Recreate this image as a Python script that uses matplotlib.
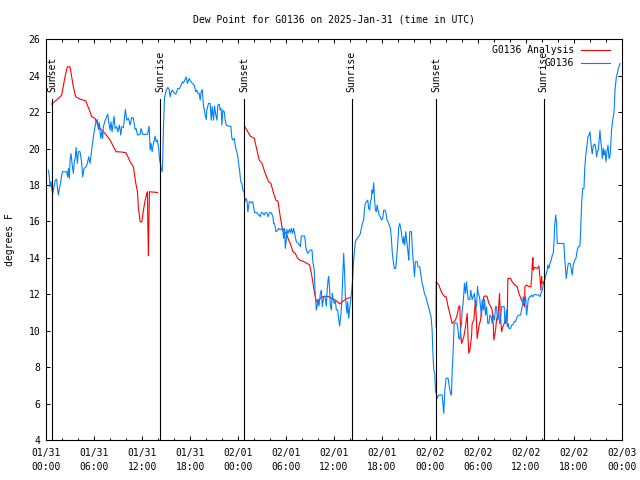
#!/usr/bin/env python3
"""Dew point chart for G0136, 2025-01-31 (gnuplot look-alike)."""

import matplotlib
matplotlib.use("Agg")
import matplotlib.pyplot as plt
from matplotlib.ticker import MultipleLocator

plt.rcParams["font.family"] = ["DejaVu Sans Mono"]
plt.rcParams["font.size"] = 7

TITLE = "Dew Point for G0136 on 2025-Jan-31 (time in UTC)"
YLABEL = "degrees F"
SERIES_NAMES = ["G0136 Analysis", "G0136"]
COLORS = ["#ff0000", "#0080ff"]

# x axis: hours since 2025-01-31 00:00 UTC
tick_hours = [0, 6, 12, 18, 24, 30, 36, 42, 48, 54, 60, 66, 72]
tick_labels = ["01/31\n00:00", "01/31\n06:00", "01/31\n12:00", "01/31\n18:00",
               "02/01\n00:00", "02/01\n06:00", "02/01\n12:00", "02/01\n18:00",
               "02/02\n00:00", "02/02\n06:00", "02/02\n12:00", "02/02\n18:00",
               "02/03\n00:00"]
y_ticks = [4, 6, 8, 10, 12, 14, 16, 18, 20, 22, 24, 26]

event_hours = [0.74, 14.28, 24.78, 38.22, 48.80, 62.25]
event_names = ["Sunset", "Sunrise", "Sunset", "Sunrise", "Sunset", "Sunrise"]

# analysis (red), three separate pieces
ana_seg1 = [
    (0.66, 22.44), (1.70, 22.84), (1.91, 22.94), (2.33, 23.94), (2.62, 24.49),
    (2.96, 24.49), (3.37, 23.39), (3.67, 22.84), (4.21, 22.72), (4.92, 22.62),
    (5.46, 22.02), (5.67, 21.75), (6.09, 21.66), (6.51, 21.20), (7.34, 20.83),
    (7.97, 20.47), (8.72, 19.83), (9.43, 19.81), (9.97, 19.77), (10.48, 19.28),
    (10.89, 19.00), (11.19, 18.09), (11.40, 17.63), (11.52, 16.72), (11.73, 15.98),
    (11.94, 15.98), (12.15, 16.62), (12.36, 17.17), (12.57, 17.54), (12.65, 17.63),
    (12.69, 15.89), (12.77, 14.12), (12.82, 15.89), (12.90, 17.63), (13.90, 17.59),
]
ana_seg2 = [
    (24.80, 21.23), (25.10, 21.01), (25.51, 20.69), (26.02, 20.56), (26.35, 19.92),
    (26.64, 19.37), (26.98, 19.19), (27.39, 18.64), (27.81, 18.18), (28.10, 18.09),
    (28.44, 17.54), (28.73, 17.17), (28.98, 17.12), (29.27, 16.26), (29.48, 15.71),
    (29.69, 15.53), (30.11, 15.25), (30.32, 14.98), (30.53, 14.79), (30.86, 14.34),
    (31.15, 14.25), (31.45, 13.97), (31.70, 13.88), (31.99, 13.84), (32.62, 13.70),
    (32.95, 13.61), (33.24, 12.97), (33.53, 12.14), (33.79, 11.59), (34.08, 11.69),
    (34.50, 11.87), (34.91, 11.90), (35.33, 11.87), (35.75, 11.76), (36.17, 11.69),
    (36.71, 11.47), (37.21, 11.65), (37.63, 11.78), (38.05, 11.81),
]
ana_seg3 = [
    (48.78, 10.22), (48.79, 12.69), (49.11, 12.51), (49.53, 12.05), (49.87, 11.87),
    (50.03, 11.87), (50.28, 11.32), (50.49, 10.95), (50.79, 10.40), (51.20, 10.59),
    (51.41, 10.86), (51.62, 11.32), (51.75, 11.36), (51.83, 10.04), (51.96, 9.30),
    (52.25, 9.67), (52.46, 10.22), (52.67, 10.95), (52.79, 9.49), (52.87, 8.76),
    (53.00, 8.94), (53.21, 9.67), (53.29, 10.40), (53.50, 10.59), (53.71, 11.69),
    (53.84, 10.40), (53.92, 9.58), (54.13, 10.22), (54.34, 10.59), (54.54, 11.32),
    (54.75, 11.87), (54.96, 11.92), (55.17, 11.87), (55.38, 11.50), (55.59, 11.36),
    (55.80, 11.14), (55.92, 10.40), (56.01, 9.49), (56.22, 10.04), (56.34, 10.59),
    (56.55, 10.95), (56.72, 12.05), (56.80, 10.95), (56.97, 9.95), (57.14, 10.22),
    (57.30, 10.40), (57.47, 10.40), (57.68, 10.59), (57.76, 12.87), (58.10, 12.87),
    (58.30, 12.69), (58.64, 12.51), (58.93, 12.42), (59.14, 12.05), (59.47, 11.69),
    (59.68, 11.50), (59.85, 11.32), (59.89, 12.42), (60.10, 12.51), (60.39, 12.42),
    (60.64, 12.42), (60.73, 12.87), (60.81, 13.61), (60.89, 14.01), (60.94, 13.33),
    (61.10, 13.48), (61.44, 13.42), (61.65, 13.55), (61.77, 12.97), (61.90, 12.23),
    (61.98, 12.97), (62.06, 12.60), (62.27, 12.69),
]

# station observations (blue)
obs_pts = [
    (0.24, 18.82), (0.37, 18.45), (0.45, 17.90), (0.58, 18.18), (0.70, 17.72),
    (0.79, 17.54), (0.95, 17.90), (1.12, 18.27), (1.29, 18.31), (1.41, 17.72),
    (1.50, 17.45), (1.62, 17.81), (1.79, 18.12), (1.91, 18.55), (2.04, 18.73),
    (2.33, 18.73), (2.54, 18.73), (2.67, 18.45), (2.75, 18.91), (2.87, 18.36),
    (2.96, 19.37), (3.08, 19.73), (3.21, 19.19), (3.37, 18.64), (3.50, 19.28),
    (3.63, 19.55), (3.71, 20.06), (3.88, 19.19), (4.00, 19.83), (4.21, 19.83),
    (4.34, 19.46), (4.42, 19.19), (4.54, 18.45), (4.71, 18.91), (4.96, 19.00),
    (5.13, 19.19), (5.30, 19.55), (5.46, 19.19), (5.59, 19.64), (5.76, 20.19),
    (5.88, 20.65), (6.01, 21.01), (6.22, 21.53), (6.38, 21.60), (6.51, 21.05),
    (6.63, 21.42), (6.80, 20.56), (6.93, 20.92), (7.05, 20.56), (7.13, 21.20),
    (7.34, 21.53), (7.55, 21.75), (7.68, 21.89), (7.80, 21.47), (7.97, 21.01),
    (8.09, 21.47), (8.22, 20.92), (8.47, 21.78), (8.60, 21.10), (8.81, 21.20),
    (8.93, 20.92), (9.14, 21.29), (9.31, 20.74), (9.43, 21.20), (9.64, 21.16),
    (9.89, 22.15), (10.06, 21.56), (10.27, 21.66), (10.48, 21.29), (10.68, 21.71),
    (10.89, 21.66), (11.10, 21.05), (11.23, 21.10), (11.40, 20.74), (11.73, 20.78),
    (11.85, 21.10), (12.06, 20.78), (12.36, 20.78), (12.65, 20.78), (12.86, 21.23),
    (12.98, 19.92), (13.11, 20.28), (13.23, 19.83), (13.40, 20.28), (13.61, 20.69),
    (13.73, 20.38), (13.90, 20.47), (14.07, 19.92), (14.15, 19.46), (14.32, 19.00),
    (14.49, 18.73), (14.57, 19.55), (14.65, 21.10), (14.78, 22.75), (14.99, 23.21),
    (15.20, 23.36), (15.36, 23.25), (15.49, 22.84), (15.61, 23.12), (15.78, 23.21),
    (15.99, 23.06), (16.20, 22.99), (16.45, 23.30), (16.66, 23.30), (16.87, 23.48),
    (17.03, 23.67), (17.16, 23.61), (17.37, 23.80), (17.49, 23.94), (17.66, 23.58),
    (17.87, 23.85), (18.08, 23.67), (18.29, 23.58), (18.50, 23.48), (18.70, 23.12),
    (18.83, 23.21), (18.96, 23.03), (19.12, 23.03), (19.25, 22.66), (19.37, 23.12),
    (19.50, 23.25), (19.67, 22.30), (19.79, 22.11), (19.87, 21.84), (20.00, 21.60),
    (20.08, 22.11), (20.29, 22.48), (20.50, 22.48), (20.63, 21.56), (20.75, 22.30),
    (20.92, 21.56), (21.04, 22.33), (21.21, 21.84), (21.34, 21.56), (21.46, 22.39),
    (21.63, 22.44), (21.75, 22.11), (21.88, 22.20), (21.96, 21.29), (22.09, 22.11),
    (22.26, 22.02), (22.38, 21.56), (22.51, 21.29), (22.80, 21.23), (23.09, 21.23),
    (23.22, 20.56), (23.34, 20.47), (23.51, 20.56), (23.63, 20.19), (23.76, 19.92),
    (23.93, 19.64), (24.05, 19.19), (24.18, 18.82), (24.26, 18.45), (24.34, 18.18),
    (24.47, 18.09), (24.59, 17.72), (24.76, 17.63), (24.85, 17.08), (24.97, 17.26),
    (25.10, 17.17), (25.22, 16.53), (25.39, 17.08), (25.51, 17.08), (25.64, 17.03),
    (25.81, 17.08), (25.93, 16.81), (26.06, 16.48), (26.35, 16.48), (26.56, 16.35),
    (26.68, 16.35), (26.77, 16.26), (26.89, 16.48), (27.06, 16.48), (27.27, 16.35),
    (27.39, 16.48), (27.60, 16.48), (27.73, 16.26), (27.94, 16.48), (28.15, 16.48),
    (28.35, 16.26), (28.44, 15.89), (28.56, 15.89), (28.73, 15.44), (28.86, 15.47),
    (29.06, 15.62), (29.19, 15.56), (29.36, 15.56), (29.48, 15.62), (29.61, 15.44),
    (29.69, 15.07), (29.82, 15.62), (29.90, 14.52), (30.03, 14.98), (30.11, 15.56),
    (30.23, 15.34), (30.40, 15.56), (30.53, 15.38), (30.65, 15.62), (30.82, 15.34),
    (30.94, 15.62), (31.07, 15.38), (31.15, 15.16), (31.28, 14.89), (31.57, 14.79),
    (31.78, 14.61), (31.91, 15.20), (32.11, 15.20), (32.32, 15.20), (32.41, 14.89),
    (32.49, 14.52), (32.62, 14.34), (32.74, 14.25), (32.87, 14.34), (33.03, 14.43),
    (33.24, 14.43), (33.37, 13.70), (33.53, 13.33), (33.62, 12.23), (33.79, 11.14),
    (33.87, 11.32), (33.99, 11.72), (34.12, 11.36), (34.29, 12.05), (34.41, 12.23),
    (34.54, 11.32), (34.70, 11.87), (34.87, 11.87), (35.04, 11.36), (35.12, 12.05),
    (35.25, 12.78), (35.33, 12.97), (35.46, 12.23), (35.54, 11.36), (35.66, 11.14),
    (35.79, 12.05), (35.87, 11.76), (36.04, 11.50), (36.17, 11.65), (36.29, 11.14),
    (36.46, 11.14), (36.58, 10.62), (36.71, 10.26), (36.79, 10.62), (36.88, 10.95),
    (37.00, 11.87), (37.09, 12.97), (37.21, 14.25), (37.34, 12.97), (37.42, 11.87),
    (37.54, 11.32), (37.63, 10.95), (37.71, 11.59), (37.84, 10.68), (37.96, 11.23),
    (38.05, 11.50), (38.17, 12.05), (38.30, 12.60), (38.46, 13.88), (38.67, 14.89),
    (38.88, 15.07), (39.09, 15.16), (39.30, 15.34), (39.42, 15.62), (39.55, 15.89),
    (39.72, 16.08), (39.80, 16.62), (39.92, 16.99), (40.05, 17.08), (40.22, 17.17),
    (40.34, 16.72), (40.47, 16.62), (40.55, 17.08), (40.68, 17.26), (40.76, 17.72),
    (40.84, 17.54), (40.97, 18.12), (41.05, 17.36), (41.18, 16.62), (41.30, 16.53),
    (41.39, 16.90), (41.51, 16.62), (41.64, 16.35), (41.80, 16.26), (41.93, 16.08),
    (42.10, 16.17), (42.22, 16.62), (42.35, 16.62), (42.47, 16.53), (42.64, 16.08),
    (42.85, 15.89), (43.06, 15.62), (43.18, 15.07), (43.27, 14.43), (43.39, 13.88),
    (43.56, 13.42), (43.73, 13.42), (43.81, 13.88), (43.98, 14.79), (44.10, 15.71),
    (44.23, 15.89), (44.31, 15.71), (44.44, 15.38), (44.52, 15.07), (44.65, 14.79),
    (44.73, 15.16), (44.85, 14.70), (44.98, 15.44), (45.15, 14.79), (45.27, 14.28),
    (45.36, 13.88), (45.48, 15.44), (45.69, 15.44), (45.77, 14.79), (45.90, 13.88),
    (45.98, 13.51), (46.07, 12.97), (46.19, 13.79), (46.40, 13.79), (46.52, 13.51),
    (46.73, 13.51), (46.90, 12.97), (47.03, 12.60), (47.15, 12.42), (47.32, 12.05),
    (47.49, 11.87), (47.65, 11.59), (47.82, 11.32), (47.99, 11.04), (48.15, 10.77),
    (48.28, 10.04), (48.36, 8.94), (48.49, 7.84), (48.61, 7.66), (48.70, 6.74),
    (48.91, 6.29), (49.11, 6.47), (49.53, 6.47), (49.74, 5.46), (49.87, 6.74),
    (50.03, 7.39), (50.28, 7.39), (50.37, 7.11), (50.58, 6.56), (50.70, 6.47),
    (50.79, 7.84), (50.91, 8.85), (51.04, 10.40), (51.20, 10.44), (51.41, 10.40),
    (51.54, 9.95), (51.62, 9.58), (51.75, 9.53), (51.83, 10.04), (51.96, 10.40),
    (52.04, 11.14), (52.16, 11.50), (52.33, 12.60), (52.46, 12.05), (52.58, 12.69),
    (52.67, 12.23), (52.79, 11.72), (53.00, 11.72), (53.12, 12.23), (53.29, 11.72),
    (53.42, 11.87), (53.58, 12.05), (53.71, 11.32), (53.84, 11.32), (53.96, 12.42),
    (54.04, 12.05), (54.21, 11.87), (54.34, 11.32), (54.46, 10.77), (54.54, 11.69),
    (54.71, 11.14), (54.84, 11.72), (54.96, 10.86), (55.09, 11.32), (55.25, 10.40),
    (55.38, 10.40), (55.51, 10.86), (55.67, 10.77), (55.80, 10.40), (55.92, 10.86),
    (56.09, 10.59), (56.22, 11.32), (56.34, 11.32), (56.47, 10.59), (56.63, 10.95),
    (56.72, 10.40), (56.84, 10.59), (56.97, 11.32), (57.14, 11.32), (57.30, 11.32),
    (57.39, 10.40), (57.47, 10.59), (57.59, 11.14), (57.68, 10.22), (57.80, 10.40),
    (57.89, 10.13), (58.10, 10.13), (58.22, 10.31), (58.39, 10.31), (58.56, 10.50),
    (58.72, 10.50), (58.93, 10.77), (59.14, 10.86), (59.35, 10.86), (59.56, 11.32),
    (59.68, 11.87), (59.81, 11.50), (59.98, 11.87), (60.10, 10.86), (60.18, 11.14),
    (60.31, 11.72), (60.48, 11.87), (60.60, 11.87), (60.73, 11.96), (60.89, 11.87),
    (61.02, 11.96), (61.14, 12.00), (61.44, 11.96), (61.65, 11.96), (61.77, 11.87),
    (61.90, 12.05), (62.06, 12.23), (62.19, 12.51), (62.36, 12.78), (62.52, 13.06),
    (62.69, 13.33), (62.77, 13.61), (62.90, 13.42), (63.03, 13.70), (63.19, 13.88),
    (63.32, 14.15), (63.44, 14.25), (63.53, 14.79), (63.61, 15.71), (63.74, 16.35),
    (63.86, 15.89), (63.94, 14.79), (64.15, 14.79), (64.36, 14.79), (64.57, 14.79),
    (64.78, 14.79), (64.86, 14.06), (64.99, 13.33), (65.07, 12.87), (65.20, 13.33),
    (65.32, 13.70), (65.53, 13.70), (65.70, 13.42), (65.82, 13.06), (65.95, 13.61),
    (66.12, 13.88), (66.28, 13.97), (66.45, 14.43), (66.58, 14.61), (66.78, 14.65),
    (66.87, 15.44), (66.99, 16.99), (67.12, 17.81), (67.29, 17.81), (67.37, 18.82),
    (67.49, 19.55), (67.62, 20.01), (67.79, 20.65), (67.91, 20.74), (68.04, 20.92),
    (68.12, 20.47), (68.25, 19.92), (68.33, 19.73), (68.46, 20.19), (68.54, 20.19),
    (68.66, 20.25), (68.79, 19.92), (68.87, 19.55), (68.96, 19.83), (69.08, 19.92),
    (69.17, 20.38), (69.29, 21.01), (69.37, 20.47), (69.50, 20.01), (69.58, 19.46),
    (69.71, 20.01), (69.79, 19.64), (69.92, 19.92), (70.04, 19.28), (70.13, 19.73),
    (70.29, 20.19), (70.42, 19.46), (70.54, 19.55), (70.63, 20.10), (70.75, 21.10),
    (70.92, 21.66), (71.05, 22.02), (71.17, 23.21), (71.34, 23.94), (71.46, 24.12),
    (71.59, 24.40), (71.80, 24.67),
]


def unzip(pts):
    return [p[0] for p in pts], [p[1] for p in pts]


def main() -> None:
    fig = plt.figure(figsize=(6.4, 4.8), dpi=100)
    ax = fig.add_axes([0.0725, 0.0833, 0.8988, 0.8348])

    lw = 0.8
    for seg in (ana_seg1, ana_seg2, ana_seg3):
        t, v = unzip(seg)
        ax.plot(t, v, color=COLORS[0], linewidth=lw)
    t, v = unzip(obs_pts)
    ax.plot(t, v, color=COLORS[1], linewidth=lw)

    # sunrise / sunset markers
    for h, name in zip(event_hours, event_names):
        ax.plot([h, h], [0, 0.85], color="black", linewidth=lw,
                transform=ax.get_xaxis_transform())
        ax.text(h, 0.869, name, rotation=90, ha="center", va="bottom",
                transform=ax.get_xaxis_transform())

    ax.set_xlim(0, 72)
    ax.set_ylim(4, 26)
    ax.set_xticks(tick_hours)
    ax.set_xticklabels(tick_labels, linespacing=1.5)
    ax.xaxis.set_minor_locator(MultipleLocator(2))
    ax.set_yticks(y_ticks)
    ax.tick_params(which="both", direction="in", top=True, right=True,
                   width=0.7, colors="black")
    ax.tick_params(which="major", length=3.2)
    ax.tick_params(which="minor", length=1.8)
    ax.tick_params(axis="x", pad=5.5)
    ax.tick_params(axis="y", pad=4.5)
    for sp in ax.spines.values():
        sp.set_linewidth(0.8)

    # gnuplot-style key: right-aligned text with sample line
    for i, (name, col) in enumerate(zip(SERIES_NAMES, COLORS)):
        y = 0.973 - i * 0.033
        ax.text(0.917, y, name, ha="right", va="center", transform=ax.transAxes)
        ax.plot([0.929, 0.980], [y, y], color=col, linewidth=lw,
                transform=ax.transAxes)

    fig.text(0.5216, 1 - 19 / 480, TITLE, ha="center", va="center")
    fig.text(0.016, 0.5, YLABEL, rotation=90, ha="center", va="center")

    fig.savefig("out.png", dpi=100)
    plt.close(fig)


if __name__ == "__main__":
    main()
